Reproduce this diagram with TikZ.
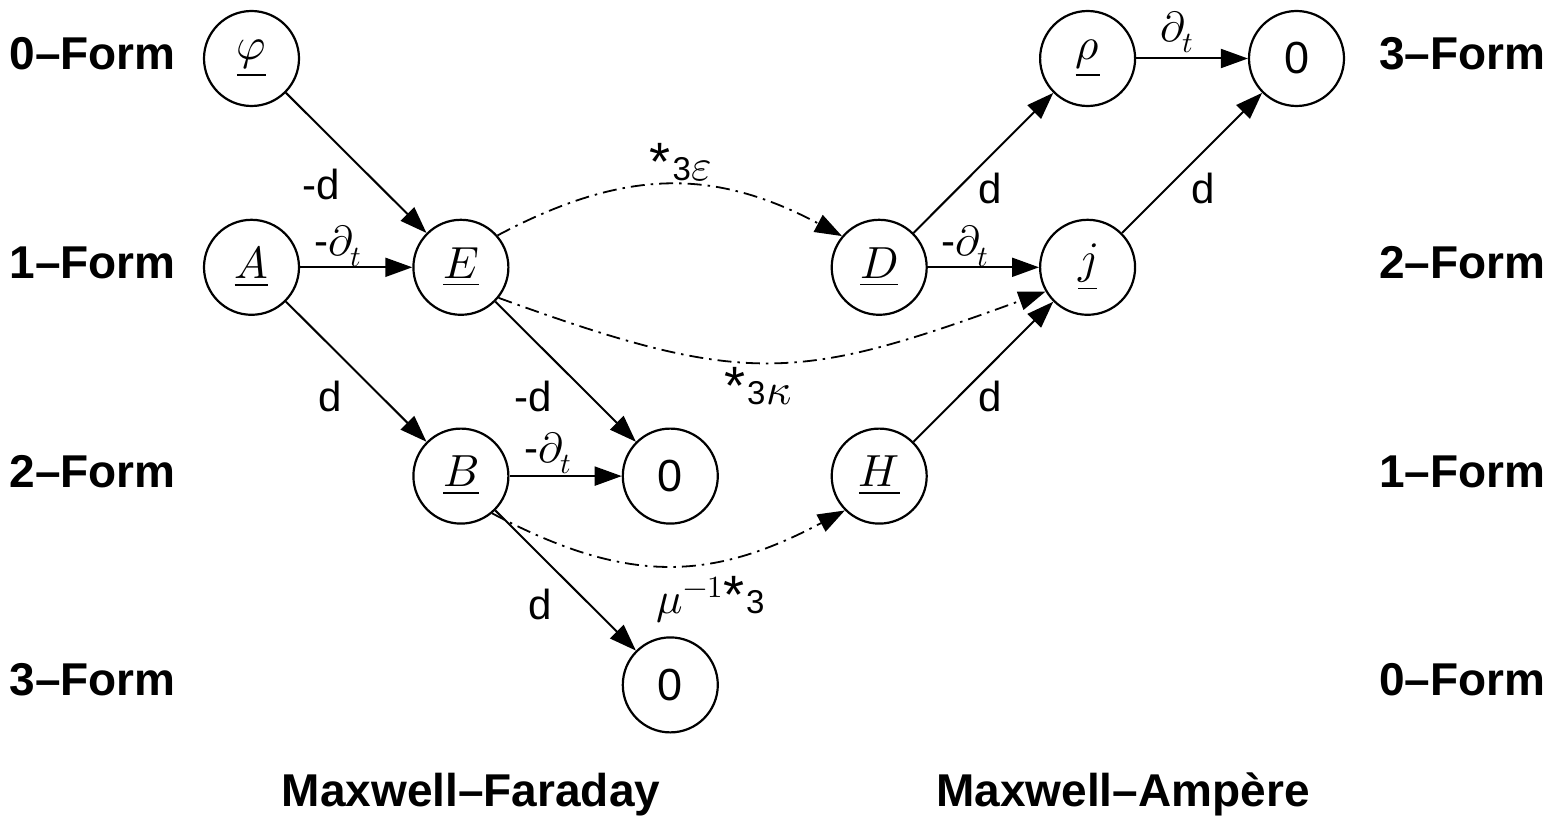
\documentclass[tikz,border=0pt]{standalone}
\usepackage{fontspec}
\usepackage{unicode-math}
\setmainfont{Liberation Sans}
\setsansfont{Liberation Sans}
\setmathfont{Latin Modern Math}
\usetikzlibrary{arrows.meta}

% Hodge star with its dimension index
\newcommand{\hstar}{{\fontsize{54}{54}\selectfont *}\kern2pt{\fontsize{33}{33}\selectfont 3}\kern1pt}

\tikzset{
  state/.style={circle, draw, line width=2.2pt, minimum size=95pt, inner sep=0pt,
                font=\fontsize{45}{54}\selectfont},
  arr/.style={line width=2pt, -{Triangle[length=27pt,width=19pt]}},
  hodge/.style={arr, line width=1.8pt, dash pattern=on 14pt off 6pt on 2.5pt off 6pt},
  lab/.style={inner sep=0pt, font=\fontsize{42}{50}\selectfont},
  hlab/.style={inner sep=0pt, font=\fontsize{44}{50}\selectfont},
  form/.style={inner sep=0pt, font=\fontsize{46}{55}\selectfont\bfseries},
}

\begin{document}
\begin{tikzpicture}[x=1pt, y=1pt]
  \useasboundingbox (0,0) rectangle (1568,-821);
  \fill[white] (0,0) rectangle (1568,-821);

  % degree labels
  \node[form, anchor=base east] (l0) at (176,-69.5)  {0–Form};
  \node[form, anchor=base east] (l1) at (176,-278.3) {1–Form};
  \node[form, anchor=base east] (l2) at (176,-487.1) {2–Form};
  \node[form, anchor=base east] (l3) at (176,-695.9) {3–Form};
  \node[form, anchor=base west] (r3) at (1379,-69.5)  {3–Form};
  \node[form, anchor=base west] (r2) at (1379,-278.3) {2–Form};
  \node[form, anchor=base west] (r1) at (1379,-487.1) {1–Form};
  \node[form, anchor=base west] (r0) at (1379,-695.9) {0–Form};

  % Maxwell-Faraday complex
  \node[state] (phi) at (251.5,-58.5)  {$\underline{\varphi}$};
  \node[state] (A)   at (251.5,-267.3) {$\underline{A}$};
  \node[state] (E)   at (460.9,-267.3) {$\underline{E}$};
  \node[state] (B)   at (460.9,-476.1) {$\underline{B}$};
  \node[state] (zB)  at (670.3,-476.1) {0};
  \node[state] (zF)  at (670.3,-684.9) {0};

  % Maxwell-Ampere complex
  \node[state] (D)   at (879.2,-267.3) {$\underline{D}$};
  \node[state] (H)   at (879.2,-476.1) {$\underline{H}$};
  \node[state] (rho) at (1087.6,-58.5)  {$\underline{\rho}$};
  \node[state] (j)   at (1087.6,-267.3) {$\underline{j}$};
  \node[state] (zA)  at (1296.5,-58.5)  {0};

  % exterior derivative and time derivative
  \draw[arr] (phi) -- (E) node[lab] at (321,-184) {-d};
  \draw[arr] (A) -- (E)   node[lab] at (338,-246) {-$\partial_t$};
  \draw[arr] (A) -- (B)   node[lab] at (330,-396) {d};
  \draw[arr] (E) -- (zB)  node[lab] at (533,-396) {-d};
  \draw[arr] (B) -- (zB)  node[lab] at (548,-453) {-$\partial_t$};
  \draw[arr] (B) -- (zF)  node[lab] at (540,-604) {d};

  \draw[arr] (D) -- (rho) node[lab] at (990,-188)  {d};
  \draw[arr] (D) -- (j)   node[lab] at (965,-246)  {-$\partial_t$};
  \draw[arr] (rho) -- (zA) node[lab] at (1177,-32) {$\partial_t$};
  \draw[arr] (j) -- (zA)  node[lab] at (1203,-188) {d};
  \draw[arr] (H) -- (j)   node[lab] at (990,-396)  {d};

  % Hodge star constitutive maps
  \draw[hodge] (E.41) to[out=28, in=152, looseness=1.07] (D.140)
    node[hlab] at (681,-162) {\hstar$\varepsilon$};
  \draw[hodge] (E.-39) to[out=-20, in=200, looseness=1.23] (j.210)
    node[hlab] at (758,-386) {\hstar$\kappa$};
  \draw[hodge] (B.-50) to[out=-28, in=208, looseness=1.1] (H.225)
    node[hlab] at (711,-600) {$\mu^{-1}$\hstar};

  % complex titles
  \node[form, anchor=base] (mf) at (471,-806)  {Maxwell–Faraday};
  \node[form, anchor=base] (ma) at (1123,-806) {Maxwell–Ampère};
\end{tikzpicture}
\end{document}
